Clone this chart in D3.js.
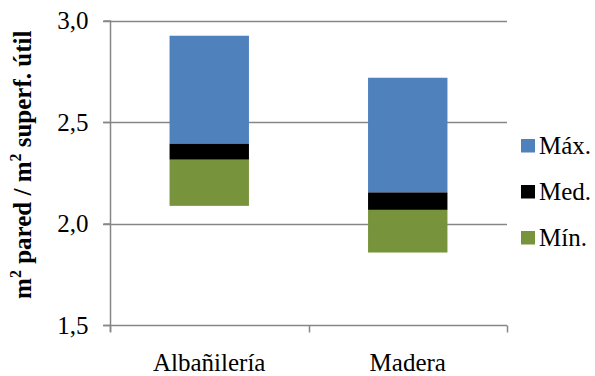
<!DOCTYPE html>
<html>
<head>
<meta charset="utf-8">
<script src="https://cdn.jsdelivr.net/npm/d3@7/dist/d3.min.js"></script>
<style>
  html, body { margin: 0; padding: 0; background: #fff; }
</style>
</head>
<body>
<svg id="chart" width="595" height="376"></svg>
<script>
// Wall area per useful floor area, by construction type
const categories = ["Albañilería", "Madera"];
// band boundaries for each category (bottom of bar, top of Mín, top of Med, top of Máx)
const barBottom = [2.087, 1.857];
const minTop    = [2.314, 2.067];
const medTop    = [2.393, 2.153];
const maxTop    = [2.925, 2.718];

const seriesNames  = ["Máx.", "Med.", "Mín."];
const seriesColors = ["#4f81bd", "#000000", "#77933c"];
const yTicks = [1.5, 2.0, 2.5, 3.0];
// axis title pieces; "2" pieces are drawn as superscripts
const yTitleParts = ["m", "2", " pared / m", "2", " superf. útil"];

const FONT = "Liberation Serif";
const svg = d3.select("#chart");
const margin = { left: 110, right: 88, top: 20.5, bottom: 51 };
const W = 595, H = 376;

const x = d3.scaleBand()
  .domain(categories)
  .range([margin.left, W - margin.right])
  .paddingInner(0.6)
  .paddingOuter(0.3);

const y = d3.scaleLinear()
  .domain([1.5, 3.0])
  .range([H - margin.bottom, margin.top]);

const fmt = d => d3.format(".1f")(d).replace(".", ",");

// horizontal gridlines
svg.append("g")
  .selectAll("line")
  .data(yTicks)
  .join("line")
  .attr("x1", margin.left - 7)
  .attr("x2", W - margin.right)
  .attr("y1", d => Math.round(y(d)) + 0.5)
  .attr("y2", d => Math.round(y(d)) + 0.5)
  .attr("stroke", "#868686")
  .attr("stroke-width", 1.5);

// bars: each category is split into three bands
const bands = [];
categories.forEach((c, i) => {
  bands.push({ c, lo: medTop[i], hi: maxTop[i], color: seriesColors[0] });
  bands.push({ c, lo: minTop[i], hi: medTop[i], color: seriesColors[1] });
  bands.push({ c, lo: barBottom[i], hi: minTop[i], color: seriesColors[2] });
});

svg.append("g")
  .selectAll("rect")
  .data(bands)
  .join("rect")
  .attr("x", d => x(d.c))
  .attr("width", x.bandwidth())
  .attr("y", d => y(d.hi))
  .attr("height", d => y(d.lo) - y(d.hi))
  .attr("fill", d => d.color);

// y axis
const yAxis = d3.axisLeft(y)
  .tickValues(yTicks)
  .tickFormat(fmt)
  .tickSize(7)
  .tickPadding(15);

const gy = svg.append("g")
  .attr("transform", `translate(${margin.left + 0.5},0)`)
  .call(yAxis)
  .attr("font-family", FONT)
  .attr("font-size", 25);
gy.select(".domain").attr("stroke", "#868686").attr("stroke-width", 1.5)
  .attr("d", `M0,${y(1.5) + 7}V${margin.top}`);
gy.selectAll(".tick line").attr("stroke", "#868686").attr("stroke-width", 1.5);
gy.selectAll(".tick text").attr("fill", "#000");

// x axis: divider ticks between categories
const xEdges = [margin.left, (x(categories[0]) + x.bandwidth() + x(categories[1])) / 2, W - margin.right];
const baseY = Math.round(y(1.5)) + 0.5;
svg.append("g")
  .selectAll("line")
  .data(xEdges)
  .join("line")
  .attr("x1", d => Math.round(d) + 0.5)
  .attr("x2", d => Math.round(d) + 0.5)
  .attr("y1", baseY)
  .attr("y2", baseY + 7)
  .attr("stroke", "#868686")
  .attr("stroke-width", 1.5);

svg.append("g")
  .selectAll("text")
  .data(categories)
  .join("text")
  .attr("x", d => x(d) + x.bandwidth() / 2)
  .attr("y", 371)
  .attr("text-anchor", "middle")
  .attr("font-family", FONT)
  .attr("font-size", 25)
  .text(d => d);

// y axis title with superscript exponents
const title = svg.append("text")
  .attr("transform", `translate(31,${(margin.top + H - margin.bottom) / 2 - 8}) rotate(-90)`)
  .attr("text-anchor", "middle")
  .attr("font-family", FONT)
  .attr("font-size", 25)
  .attr("font-weight", "bold");
title.selectAll("tspan")
  .data(yTitleParts)
  .join("tspan")
  .attr("font-size", (d, i) => i % 2 === 1 ? 16 : 25)
  .attr("dy", (d, i) => i === 0 ? 0 : (i % 2 === 1 ? -10 : 10))
  .text(d => d);

// legend
const legend = svg.append("g").attr("transform", "translate(521,139)");
const items = legend.selectAll("g")
  .data(seriesNames)
  .join("g")
  .attr("transform", (d, i) => `translate(0,${i * 46})`);
items.append("rect")
  .attr("width", 14)
  .attr("height", 13.5)
  .attr("fill", (d, i) => seriesColors[i]);
items.append("text")
  .attr("x", 18)
  .attr("y", 15)
  .attr("font-family", FONT)
  .attr("font-size", 25)
  .text(d => d);
</script>
</body>
</html>
